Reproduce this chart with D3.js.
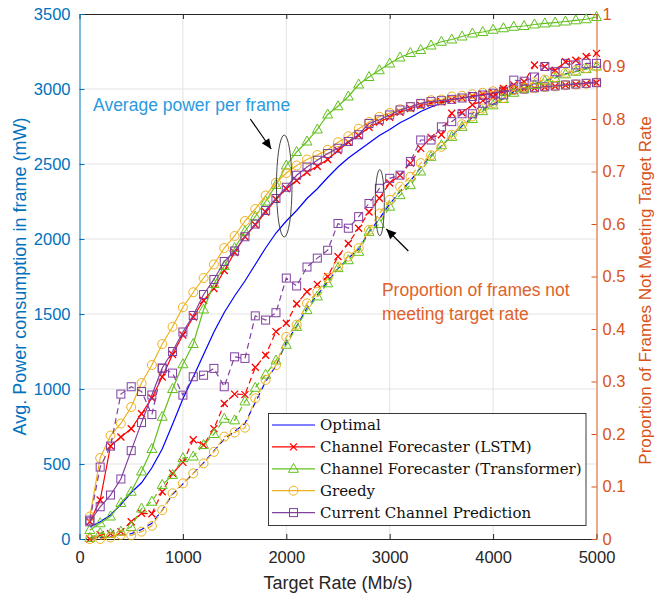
<!DOCTYPE html>
<html><head><meta charset="utf-8">
<script src="https://cdn.jsdelivr.net/npm/d3@7"></script>
<style>body{margin:0;background:#fff}svg{display:block}</style>
</head><body><svg id="c" width="655" height="596"></svg>
<script>
// ---------------- data ----------------
const targetRate = [100,200,300,400,500,600,700,800,900,1000,1100,1200,1300,1400,1500,1600,1700,1800,1900,2000,
  2100,2200,2300,2400,2500,2600,2700,2800,2900,3000,3100,3200,3300,3400,3500,3600,3700,3800,3900,4000,
  4100,4200,4300,4400,4500,4600,4700,4800,4900,5000];
const seriesNames = ["Optimal","Channel Forecaster (LSTM)","Channel Forecaster (Transformer)","Greedy","Current Channel Prediction"];

// Avg power (mW), left axis
const powerOptimal = [80,115,160,230,310,375,475,600,765,935,1080,1230,1380,1510,1620,1720,1830,1940,2040,2120,
  2190,2270,2335,2410,2480,2540,2590,2640,2690,2730,2775,2810,2850,2880,2905,2925,2940,2950,2960,2970,
  2980,2990,3000,3005,3012,3020,3028,3035,3040,3048];
const powerLSTM = [115,260,620,680,735,835,940,1080,1230,1360,1480,1590,1670,1790,1910,2015,2095,2180,2265,2335,
  2390,2445,2485,2530,2590,2645,2690,2745,2780,2812,2845,2870,2890,2905,2915,2928,2940,2952,2965,2975,
  2985,2995,3000,3005,3012,3018,3025,3030,3035,3042];
const powerTransformer = [60,105,150,240,315,450,600,815,1000,1165,1300,1530,1700,1820,1940,2050,2150,2250,2360,2490,
  2580,2650,2730,2830,2885,2950,3030,3080,3125,3170,3210,3240,3260,3290,3315,3330,3350,3370,3380,3395,
  3405,3415,3420,3430,3437,3443,3450,3458,3465,3480];
const powerGreedy = [150,540,690,770,880,1040,1160,1300,1415,1545,1645,1740,1830,1940,2020,2120,2200,2290,2375,2440,
  2490,2530,2560,2595,2645,2685,2735,2780,2815,2840,2865,2880,2900,2925,2930,2950,2955,2965,2975,2985,
  2990,2995,3000,3005,3012,3018,3025,3030,3035,3045];
const powerCurrent = [115,215,293,400,589,776,960,1140,1250,1380,1490,1630,1730,1850,1920,2015,2100,2190,2270,2345,
  2425,2480,2525,2570,2605,2650,2695,2770,2795,2827,2860,2882,2904,2916,2922,2931,2940,2950,2960,2972,
  2985,2995,3000,3008,3015,3020,3027,3033,3038,3042];

// Proportion of frames not meeting target rate, right axis
const propOptimal = [0,0.002,0.004,0.008,0.01,0.018,0.03,0.055,0.085,0.105,0.125,0.145,0.168,0.19,0.205,0.22,0.26,0.3,0.33,0.375,
  0.405,0.44,0.465,0.49,0.515,0.535,0.552,0.585,0.61,0.638,0.662,0.682,0.708,0.73,0.748,0.768,0.787,0.803,0.818,0.828,
  0.839,0.852,0.859,0.867,0.873,0.879,0.886,0.891,0.896,0.9];
const propLSTM = [0,0.008,0.01,0.014,0.033,0.049,0.048,0.09,0.125,0.146,0.189,0.179,0.21,0.258,0.276,0.275,0.327,0.35,0.395,0.411,
  0.448,0.471,0.485,0.5,0.538,0.563,0.592,0.623,0.649,0.678,0.693,0.716,0.744,0.765,0.77,0.811,0.812,0.827,0.835,0.842,
  0.858,0.865,0.871,0.903,0.9,0.893,0.909,0.912,0.919,0.925];
const propTransformer = [0.002,0.011,0.01,0.014,0.023,0.058,0.071,0.103,0.122,0.154,0.157,0.179,0.2,0.229,0.226,0.262,0.288,0.313,0.34,0.37,
  0.404,0.436,0.462,0.487,0.516,0.531,0.547,0.585,0.6,0.633,0.655,0.674,0.7,0.728,0.75,0.766,0.785,0.8,0.815,0.826,
  0.838,0.85,0.858,0.865,0.872,0.878,0.885,0.89,0.895,0.9];
const propGreedy = [0,0,0.003,0.008,0.007,0.014,0.025,0.055,0.087,0.106,0.125,0.144,0.166,0.195,0.203,0.212,0.268,0.303,0.331,0.385,
  0.408,0.449,0.471,0.497,0.519,0.538,0.554,0.589,0.62,0.646,0.671,0.69,0.716,0.731,0.747,0.77,0.79,0.805,0.82,0.83,
  0.84,0.855,0.86,0.87,0.875,0.88,0.888,0.893,0.897,0.9];
const propCurrent = [0.036,0.137,0.177,0.276,0.29,0.281,0.237,0.325,0.316,0.274,0.309,0.312,0.325,0.29,0.347,0.344,0.425,0.417,0.431,0.497,
  0.482,0.518,0.535,0.55,0.601,0.592,0.614,0.639,0.668,0.687,0.693,0.719,0.76,0.76,0.785,0.795,0.81,0.81,0.83,0.836,
  0.846,0.874,0.872,0.88,0.9,0.89,0.906,0.903,0.906,0.906];

const xTicks = [0,1000,2000,3000,4000,5000];
const yLeftTicks = [0,500,1000,1500,2000,2500,3000,3500];
const yRightTicks = [0,0.1,0.2,0.3,0.4,0.5,0.6,0.7,0.8,0.9,1];

// ---------------- setup ----------------
const L = 79.5, R = 596.5, T = 14, B = 539;
const x = d3.scaleLinear().domain([0,5000]).range([L,R]);
const yL = d3.scaleLinear().domain([0,3500]).range([B,T]);
const yR = d3.scaleLinear().domain([0,1]).range([B,T]);
const svg = d3.select('#c');
const SANS = "'Liberation Sans', Arial, Helvetica, sans-serif";
const cLeft = "#0072BD", cRight = "#D95319", cAx = "#262626";

const styles = [
  {color:"#0000FF", marker:null},
  {color:"#FF0000", marker:"x"},
  {color:"#62C11E", marker:"tri"},
  {color:"#EDB120", marker:"circ"},
  {color:"#8040A0", marker:"sq"}
];
const powerSeries = [powerOptimal, powerLSTM, powerTransformer, powerGreedy, powerCurrent];
const propSeries = [propOptimal, propLSTM, propTransformer, propGreedy, propCurrent];

// grid
const grid = svg.append('g').attr('stroke','#e3e3e3').attr('stroke-width',1);
grid.selectAll('line.v').data(xTicks.slice(1,-1)).join('line')
  .attr('x1',d=>x(d)).attr('x2',d=>x(d)).attr('y1',T).attr('y2',B);
grid.selectAll('line.h').data(yLeftTicks.slice(1,-1)).join('line')
  .attr('y1',d=>yL(d)).attr('y2',d=>yL(d)).attr('x1',L).attr('x2',R);

// axes
function styleAxis(g, color, fs){
  g.selectAll('path.domain').attr('stroke',color).attr('stroke-width',1);
  g.selectAll('.tick line').attr('stroke',color);
  g.selectAll('.tick text').attr('fill',color).style('font-family',SANS).style('font-size',fs);
}
const gx = svg.append('g').attr('transform',`translate(0,${B})`)
  .call(d3.axisBottom(x).tickValues(xTicks).tickSize(-5).tickSizeOuter(0).tickPadding(12).tickFormat(d3.format('d')));
styleAxis(gx, cAx, '16.5px');
const gt = svg.append('g').attr('transform',`translate(0,${T})`)
  .call(d3.axisTop(x).tickValues(xTicks).tickSize(-5).tickSizeOuter(0).tickFormat(''));
styleAxis(gt, cAx, '16px');
const gl = svg.append('g').attr('transform',`translate(${L},0)`)
  .call(d3.axisLeft(yL).tickValues(yLeftTicks).tickSize(-5).tickSizeOuter(0).tickPadding(9).tickFormat(d3.format('d')));
styleAxis(gl, cLeft, '16.5px');
const gr = svg.append('g').attr('transform',`translate(${R},0)`)
  .call(d3.axisRight(yR).tickValues(yRightTicks).tickSize(-5).tickSizeOuter(0).tickPadding(6).tickFormat(d=>d===0?'0':d===1?'1':d3.format('.1f')(d)));
styleAxis(gr, cRight, '16.5px');

// axis titles
svg.append('text').attr('x',(L+R)/2).attr('y',589).attr('text-anchor','middle')
  .style('font-family',SANS).style('font-size','18px').attr('fill',cAx).text('Target Rate (Mb/s)');
svg.append('text').attr('transform',`translate(26,${(T+B)/2}) rotate(-90)`).attr('text-anchor','middle')
  .style('font-family',SANS).style('font-size','18px').attr('fill',cLeft).text('Avg. Power consumption in frame (mW)');
svg.append('text').attr('transform',`translate(650.5,${(T+B)/2+14}) rotate(-90)`).attr('text-anchor','middle')
  .style('font-family',SANS).style('font-size','17px').attr('fill',cRight).text('Proportion of Frames Not Meeting Target Rate');

// markers
function drawMarker(g, type, color, px, py){
  if(type==='circ') g.append('circle').attr('cx',px).attr('cy',py).attr('r',4.5).attr('fill','none').attr('stroke',color);
  else if(type==='sq') g.append('rect').attr('x',px-4).attr('y',py-4).attr('width',8).attr('height',8).attr('fill','none').attr('stroke',color);
  else if(type==='tri') g.append('path').attr('d',`M${px},${py-5.5}L${px+5},${py+3.5}L${px-5},${py+3.5}Z`).attr('fill','none').attr('stroke',color);
  else if(type==='x') g.append('path').attr('d',`M${px-3.5},${py-3.5}L${px+3.5},${py+3.5}M${px-3.5},${py+3.5}L${px+3.5},${py-3.5}`).attr('fill','none').attr('stroke',color).attr('stroke-width',1.3);
}
function drawSeries(vals, yS, st, dashed){
  const g = svg.append('g');
  const line = d3.line().x((d,i)=>x(targetRate[i])).y(d=>yS(d));
  g.append('path').attr('d',line(vals)).attr('fill','none').attr('stroke',st.color).attr('stroke-width',1.2)
    .attr('stroke-dasharray',dashed?'6,4':null);
  if(st.marker) vals.forEach((v,i)=>drawMarker(g, st.marker, st.color, x(targetRate[i]), yS(v)));
}
powerSeries.forEach((s,i)=>drawSeries(s, yL, styles[i], false));
propSeries.forEach((s,i)=>drawSeries(s, yR, styles[i], true));

// annotations
const ann = svg.append('g');
ann.append('ellipse').attr('cx',x(1980)).attr('cy',yL(2353)).attr('rx',x(75)-x(0)).attr('ry',yL(0)-yL(340))
  .attr('fill','none').attr('stroke','#333').attr('stroke-width',0.9);
ann.append('ellipse').attr('cx',x(2904)).attr('cy',yR(0.6406)).attr('rx',x(44)-x(0)).attr('ry',yR(0)-yR(0.063))
  .attr('fill','none').attr('stroke','#333').attr('stroke-width',0.9);
function arrow(x1,y1,x2,y2){
  ann.append('line').attr('x1',x1).attr('y1',y1).attr('x2',x2).attr('y2',y2).attr('stroke','#000').attr('stroke-width',1.2);
  const dx=x2-x1, dy=y2-y1, len=Math.hypot(dx,dy), ux=dx/len, uy=dy/len, hl=10, hw=4.5;
  const bx=x2-ux*hl, by=y2-uy*hl;
  ann.append('path').attr('d',`M${x2},${y2}L${bx-uy*hw},${by+ux*hw}L${bx+uy*hw},${by-ux*hw}Z`).attr('fill','#000');
}
arrow(x(1652), yL(2800), x(1854), yL(2600));
arrow(x(3180), yR(0.5486), x(2967), yR(0.5905));
ann.append('text').attr('x',x(131)).attr('y',yL(2853)).style('font-family',SANS).style('font-size','17.5px')
  .attr('fill','#2A9AE0').text('Average power per frame');
ann.append('text').attr('x',x(2925)).attr('y',yR(0.463)).style('font-family',SANS).style('font-size','17.5px')
  .attr('fill','#E0622A').text('Proportion of frames not');
ann.append('text').attr('x',x(2925)).attr('y',yR(0.418)).style('font-family',SANS).style('font-size','17.5px')
  .attr('fill','#E0622A').text('meeting target rate');

// legend
const lg = svg.append('g');
lg.append('rect').attr('x',268.5).attr('y',413.5).attr('width',317.5).attr('height',112).attr('fill','#fff').attr('stroke',cAx).attr('stroke-width',0.9);
seriesNames.forEach((name,i)=>{
  const yy = 425 + i*21.9;
  lg.append('line').attr('x1',272).attr('x2',315).attr('y1',yy).attr('y2',yy).attr('stroke',styles[i].color).attr('stroke-width',1.2);
  if(styles[i].marker) drawMarker(lg, styles[i].marker, styles[i].color, 293.5, yy);
  lg.append('text').attr('x',320).attr('y',yy+5).style('font-family',"'DejaVu Serif', serif").style('font-size','15px')
    .attr('fill','#111').text(name);
});
</script></body></html>
